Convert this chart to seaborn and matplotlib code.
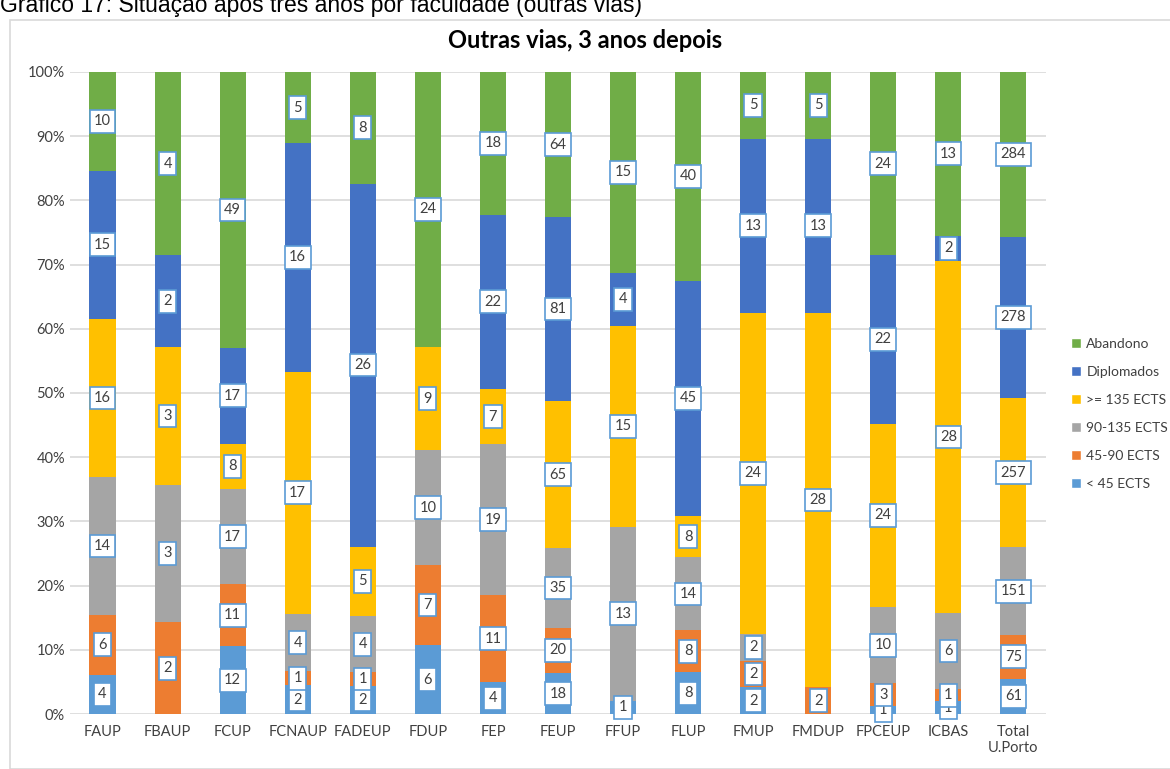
import numpy as np
import pandas as pd
import seaborn as sns
import matplotlib
matplotlib.use("Agg")
import matplotlib.pyplot as plt
from matplotlib.patches import Rectangle, Patch

# datos (conteos por facultad)
facultades = ['FAUP', 'FBAUP', 'FCUP', 'FCNAUP', 'FADEUP', 'FDUP', 'FEP', 'FEUP',
              'FFUP', 'FLUP', 'FMUP', 'FMDUP', 'FPCEUP', 'ICBAS', 'Total\nU.Porto']

menos_45 = [4, 0, 12, 2, 2, 6, 4, 18, 1, 8, 2, 0, 1, 1, 61]
ects_45_90 = [6, 2, 11, 1, 1, 7, 11, 20, 0, 8, 2, 2, 3, 1, 75]
ects_90_135 = [14, 3, 17, 4, 4, 10, 19, 35, 13, 14, 2, 0, 10, 6, 151]
mas_135 = [16, 3, 8, 17, 5, 9, 7, 65, 15, 8, 24, 28, 24, 28, 257]
diplomados = [15, 2, 17, 16, 26, 0, 22, 81, 4, 45, 13, 13, 22, 2, 278]
abandono = [10, 4, 49, 5, 8, 24, 18, 64, 15, 40, 5, 5, 24, 13, 284]

series = ['< 45 ECTS', '45-90 ECTS', '90-135 ECTS', '>= 135 ECTS', 'Diplomados', 'Abandono']
colores = ['#5B9BD5', '#ED7D31', '#A5A5A5', '#FFC000', '#4472C4', '#70AD47']

datos = pd.DataFrame({'< 45 ECTS': menos_45, '45-90 ECTS': ects_45_90,
                      '90-135 ECTS': ects_90_135, '>= 135 ECTS': mas_135,
                      'Diplomados': diplomados, 'Abandono': abandono},
                     index=facultades)
porcentaje = datos.div(datos.sum(axis=1), axis=0) * 100

sns.set_theme(style="white")
plt.rcParams['font.family'] = ['Lato', 'DejaVu Sans']

fig = plt.figure(figsize=(11.7, 7.69), dpi=100)
ax = fig.add_axes([0.0598, 0.0715, 0.8342, 0.835])

# marco del grafico y titulo del documento (cortado arriba)
fig.patches.append(Rectangle((10 / 1170, 0), 1.0, 1 - 20 / 769, transform=fig.transFigure,
                             fill=False, edgecolor='#D9D9D9', linewidth=1.2))
fig.text(0, 1 - 12 / 769, 'Gráfico 17: Situação após três anos por faculdade (outras vias)',
         fontsize=16.5, family=['Liberation Sans', 'DejaVu Sans'], va='baseline', color='#000000')

acumulado = np.zeros(len(facultades))
for serie, color in zip(series, colores):
    sns.barplot(x=facultades, y=porcentaje[serie].values, bottom=acumulado, color=color,
                width=0.4, ax=ax, linewidth=0, saturation=1)
    for i, (v, n) in enumerate(zip(porcentaje[serie].values, datos[serie].values)):
        if n > 0:
            ax.text(i, acumulado[i] + v / 2, str(n), ha='center', va='center', fontsize=10.5,
                    color='#404040',
                    bbox=dict(boxstyle='square,pad=0.3', facecolor='white',
                              edgecolor='#5B9BD5', linewidth=1.2))
    acumulado += porcentaje[serie].values

ax.set_xlim(-0.5, len(facultades) - 0.5)
ax.set_ylim(0, 100)
ax.set_yticks(np.arange(0, 101, 10))
ax.set_yticklabels([f'{t}%' for t in range(0, 101, 10)])
ax.yaxis.grid(True, color='#D9D9D9', linewidth=1.2)
ax.set_axisbelow(True)
for s in ax.spines.values():
    s.set_visible(False)
ax.tick_params(axis='both', length=0, labelsize=10.5, colors='#404040')
ax.tick_params(axis='x', pad=8)
fig.text(0.5, 1 - 40 / 769, 'Outras vias, 3 anos depois', fontsize=17, fontweight='bold',
         ha='center', va='center', color='#000000')

handles = [Patch(facecolor=c, label=s) for s, c in zip(series, colores)][::-1]
fig.legend(handles=handles, loc='center left', bbox_to_anchor=(1071 / 1170, 1 - 414 / 769),
           frameon=False, fontsize=10, handlelength=0.75, handleheight=0.75,
           handletextpad=0.35, labelspacing=1.15, labelcolor='#404040',
           borderpad=0, borderaxespad=0)

fig.savefig('out.png', dpi=100)
